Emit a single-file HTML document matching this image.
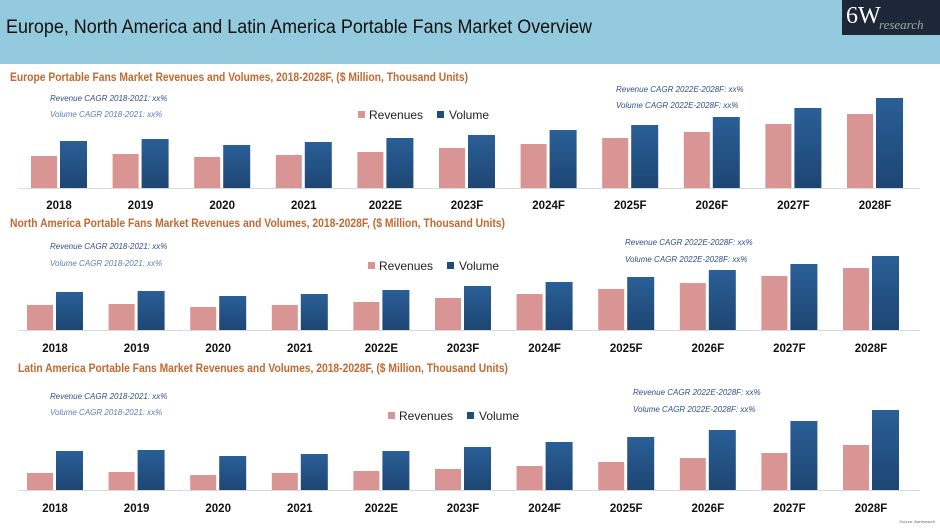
<!DOCTYPE html>
<html><head><meta charset="utf-8">
<style>
body{margin:0;width:940px;height:529px;overflow:hidden;background:#fff;font-family:"Liberation Sans",sans-serif;}
#hdr{position:absolute;left:0;top:0;width:940px;height:64px;background:#93cadd;}
#logo{position:absolute;left:842px;top:0;width:98px;height:35px;background:#1d2738;color:#fff;font-family:"Liberation Serif",serif;}
svg{position:absolute;left:0;top:0;}
</style></head><body>
<div id="hdr">
<svg width="700" height="64" style="position:absolute;left:0;top:0"><text x="6" y="33" font-size="19" fill="#111" textLength="586" lengthAdjust="spacingAndGlyphs">Europe, North America and Latin America Portable Fans Market Overview</text></svg>
<div id="logo"><span style="position:absolute;left:4px;top:3px;font-size:24px;">6W</span><span style="position:absolute;left:37px;top:17px;font-size:13px;font-style:italic;color:#9aa">research</span></div>
</div>
<svg id="chart" width="940" height="529" style="top:0"></svg>
<script>
const categories=["2018","2019","2020","2021","2022E","2023F","2024F","2025F","2026F","2027F","2028F"];
const europeRevenue=[32,34,31,33,36,40,44,50,56,64,74];
const europeVolume=[47,49,43,46,50,53,58,63,71,80,90];
const naRevenue=[25,26,23,25,28,32,36,41,47,54,62];
const naVolume=[38,39,34,36,40,44,48,53,60,66,74];
const laRevenue=[17,18,15,17,19,21,24,28,32,37,45];
const laVolume=[39,40,34,36,39,43,48,53,60,69,80];
const titles=["Europe Portable Fans Market Revenues and Volumes, 2018-2028F, ($ Million, Thousand Units)","North America Portable Fans Market Revenues and Volumes, 2018-2028F, ($ Million, Thousand Units)","Latin America Portable Fans Market Revenues and Volumes, 2018-2028F, ($ Million, Thousand Units)"];
const svg=document.getElementById('chart');
const NS='http://www.w3.org/2000/svg';
function mk(tag,attrs,parent){const e=document.createElementNS(NS,tag);for(const k in attrs)e.setAttribute(k,attrs[k]);(parent||svg).appendChild(e);return e;}
const defs=mk('defs',{});
const g=mk('linearGradient',{id:'vg',x1:0,y1:0,x2:0,y2:1},defs);
mk('stop',{offset:'0','stop-color':'#2a5f97'},g);mk('stop',{offset:'1','stop-color':'#1d4673'},g);
const panels=[
 {rev:europeRevenue,vol:europeVolume,base:188,x0:31,titleX:10,titleY:81,tl:458,lx:358,ly:119,cagrL:[50,101,117],cagrR:[616,92,108],labY:209},
 {rev:naRevenue,vol:naVolume,base:330,x0:27,titleX:10,titleY:227,tl:495,lx:368,ly:270,cagrL:[50,249,266],cagrR:[625,245,262],labY:352},
 {rev:laRevenue,vol:laVolume,base:490,x0:27,titleX:18,titleY:372,tl:490,lx:388,ly:420,cagrL:[50,399,415],cagrR:[633,395,412],labY:512}
];
const step=81.6,bw=26,scale=1.0;
panels.forEach((p,pi)=>{
 const t=mk('text',{x:p.titleX,y:p.titleY,'font-size':'11.5',fill:'#c4682f','font-weight':'bold',textLength:p.tl,lengthAdjust:'spacingAndGlyphs'});t.textContent=titles[pi];
 
 
 const y=v=>p.base-v*scale;
 mk('line',{x1:18,x2:920,y1:p.base+0.5,y2:p.base+0.5,stroke:'#d9d9d9','stroke-width':1});
 categories.forEach((c,i)=>{
  const x=p.x0+i*step;
  const r=mk('rect',{x:x,y:y(p.rev[i]),width:bw,height:p.base-y(p.rev[i]),fill:'#d99594'});
  
  
  const v=mk('rect',{x:x+29,y:y(p.vol[i]),width:bw+1,height:p.base-y(p.vol[i]),fill:'url(#vg)'});
  
  
  const l=mk('text',{x:x+28,y:p.labY,'font-size':'11.5','font-weight':'bold','text-anchor':'middle',fill:'#111'});l.textContent=c;
  
  
 });
 const lg=mk('g',{});
 
 
 mk('rect',{x:p.lx,y:p.ly-8,width:7,height:7,fill:'#d99594'},lg);
 const a=mk('text',{x:p.lx+11,y:p.ly,'font-size':'12',fill:'#222'},lg);a.textContent='Revenues';
 mk('rect',{x:p.lx+79,y:p.ly-8,width:7,height:7,fill:'#1f4e7d'},lg);
 const b=mk('text',{x:p.lx+91,y:p.ly,'font-size':'12',fill:'#222'},lg);b.textContent='Volume';
 const c1=mk('text',{x:p.cagrL[0],y:p.cagrL[1],'font-size':'8','font-style':'italic',fill:'#2e4f86'});c1.textContent='Revenue CAGR 2018-2021: xx%';
 
 
 const c2=mk('text',{x:p.cagrL[0],y:p.cagrL[2],'font-size':'8','font-style':'italic',fill:'#5b7fb5'});c2.textContent='Volume CAGR 2018-2021: xx%';
 
 
 const c3=mk('text',{x:p.cagrR[0],y:p.cagrR[1],'font-size':'8','font-style':'italic',fill:'#2e4f86'});c3.textContent='Revenue CAGR 2022E-2028F: xx%';
 
 
 const c4=mk('text',{x:p.cagrR[0],y:p.cagrR[2],'font-size':'8','font-style':'italic',fill:'#2e4f86'});c4.textContent='Volume CAGR 2022E-2028F: xx%';
 
 
});
const src=mk('text',{x:935,y:523,'font-size':'4','text-anchor':'end',fill:'#666'});src.textContent='Source: 6wresearch';


</script>
</body></html>
